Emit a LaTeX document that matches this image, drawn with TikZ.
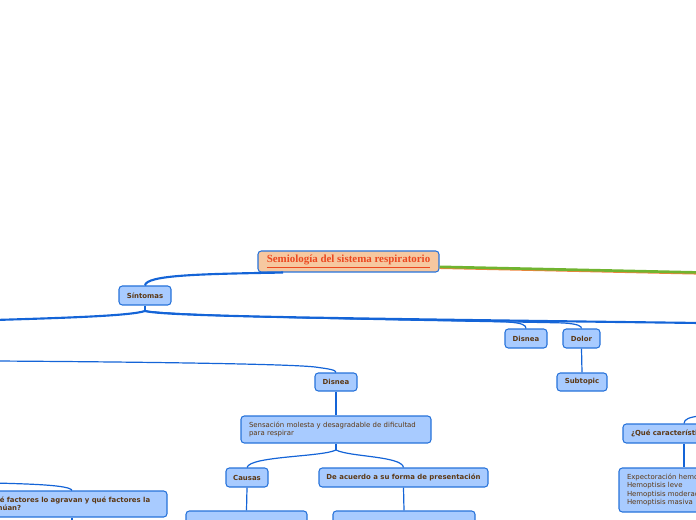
\documentclass[tikz,border=0pt]{standalone}
\usepackage{fontspec}
\newfontfamily\mapfont{DejaVu Sans}
\newfontfamily\rootfont{Liberation Serif}
\definecolor{topicfill}{RGB}{168,203,255}
\definecolor{topicline}{RGB}{38,114,218}
\definecolor{topictext}{RGB}{92,56,20}
\definecolor{rootfill}{RGB}{246,200,160}
\definecolor{roottext}{RGB}{236,72,32}
\definecolor{branchgreen}{RGB}{112,180,48}
\definecolor{branchorange}{RGB}{240,130,60}
\definecolor{linkblue}{RGB}{20,100,215}

\tikzset{
  topic/.style={draw=topicline, fill=topicfill, rounded corners=2.5pt, line width=0.8pt,
    text=topictext, font=\mapfont\bfseries\fontsize{5.2}{6}\selectfont, inner sep=0pt},
  note/.style={topic, align=left, inner xsep=6pt},
  plain/.style={note, font=\mapfont\fontsize{5.2}{6.3}\selectfont},
  link/.style={draw=linkblue, line width=0.9pt},
  mainlink/.style={draw=linkblue, line width=1.6pt},
}

\begin{document}
\begin{tikzpicture}[x=0.75pt,y=0.75pt,yscale=-1,xscale=1]
\useasboundingbox (0,0) rectangle (696,520);
\clip (0,0) rectangle (696,520);

%Central topic
\node[topic, fill=rootfill, minimum width=135.75pt, minimum height=15.75pt,
  font=\rootfont\bfseries\fontsize{8.2}{9}\selectfont, text=roottext] (root) at (348.5,261.5)
  {\underline{Semiología del sistema respiratorio}};

%Main topics
\node[topic, minimum width=39pt, minimum height=14.25pt] (sint) at (145,295.5) {Síntomas};
\node[topic, minimum width=31.5pt, minimum height=14.25pt] (disA) at (526,338.5) {Disnea};
\node[topic, minimum width=27.75pt, minimum height=14.25pt] (dolor) at (581.5,338.5) {Dolor};
\node[topic, minimum width=37.5pt, minimum height=13.5pt] (subt) at (582,382) {Subtopic};
\node[topic, minimum width=31.5pt, minimum height=13.5pt] (disB) at (336,382) {Disnea};

%Disnea subtree
\node[plain, text width=130.5pt, minimum height=20.25pt] (sens) at (336,429.5)
  {Sensación molesta y desagradable de dificultad\\para respirar};
\node[topic, minimum width=31.5pt, minimum height=14.25pt] (causas) at (247,477.5) {Causas};
\node[topic, minimum width=126.75pt, minimum height=14.25pt] (acuerdo) at (403.5,477.5)
  {De acuerdo a su forma de presentación};
\node[plain, text width=78.75pt, minimum height=30pt] (causasdet) at (246.5,531) {};
\node[plain, text width=94.5pt, minimum height=30pt] (acuerdodet) at (404,531) {};

%Topics cut by the edge
\node[note, text width=130.5pt, minimum height=19.5pt] (agravan) at (72,504)
  {¿Qué factores lo agravan y qué factores la\\atenúan?};
\node[note, text width=79.5pt, minimum height=14.25pt] (quecar) at (684,433.5)
  {¿Qué características tiene?};
\node[plain, text width=85.5pt, minimum height=33pt] (expect) at (684,490)
  {Expectoración hemoptoica\\Hemoptisis leve\\Hemoptisis moderada\\Hemoptisis masiva};

%Free ends outside the view
\coordinate (offL) at (-5,320);
\coordinate (offR) at (700,323);
\coordinate (offD) at (-5,361);
\coordinate (offA) at (-5,483);
\coordinate (offB) at (72,530);
\coordinate (offQ) at (700,416);
\coordinate (offG) at (700,272.5);
\coordinate (sfork) at (145,311);
\coordinate (sensfork) at (336,450);

%Green branch
\draw[branchorange, line width=1.6pt] ([yshift=4.8pt]root.east) -- ([yshift=0.8pt]offG);
\draw[branchgreen, line width=2pt] ([yshift=4pt]root.east) -- (offG);

%Connectors
\draw[mainlink] ([xshift=-49pt]root.south) .. controls (200,274) and (146,275) .. (sint.north);
\draw[link] (sint.south) -- (sfork);
\draw[mainlink] (sfork) .. controls (130,316) and (60,318) .. (offL);
\draw[mainlink] (sfork) .. controls (165,316) and (300,318) .. (offR);
\draw[link] (sfork) .. controls (180,318) and (480,320) .. (508,322) .. controls (522,323) and (526,325) .. (disA.north);
\draw[link] (sfork) .. controls (200,318) and (540,322) .. (564,323) .. controls (578,324) and (581.5,326) .. (dolor.north);
\draw[link] (dolor.south) -- (subt.north);
\draw[link] (offD) .. controls (150,362) and (290,364) .. (315,367) .. controls (330,369) and (336,370) .. (disB.north);
\draw[link] (disB.south) -- (sens.north);
\draw[link] (sens.south) -- (sensfork);
\draw[link] (sensfork) .. controls (322,457) and (250,456) .. (causas.north);
\draw[link] (sensfork) .. controls (350,457) and (402,456) .. (acuerdo.north);
\draw[link] (causas.south) -- (causasdet.north);
\draw[link] (acuerdo.south) -- (acuerdodet.north);
\draw[link] (offA) .. controls (30,484) and (70,485) .. (agravan.north);
\draw[link] (agravan.south) -- (offB);
\draw[link] (quecar.north) .. controls (684,419) and (690,417) .. (offQ);
\draw[link] (quecar.south) -- (expect.north);

\end{tikzpicture}
\end{document}
